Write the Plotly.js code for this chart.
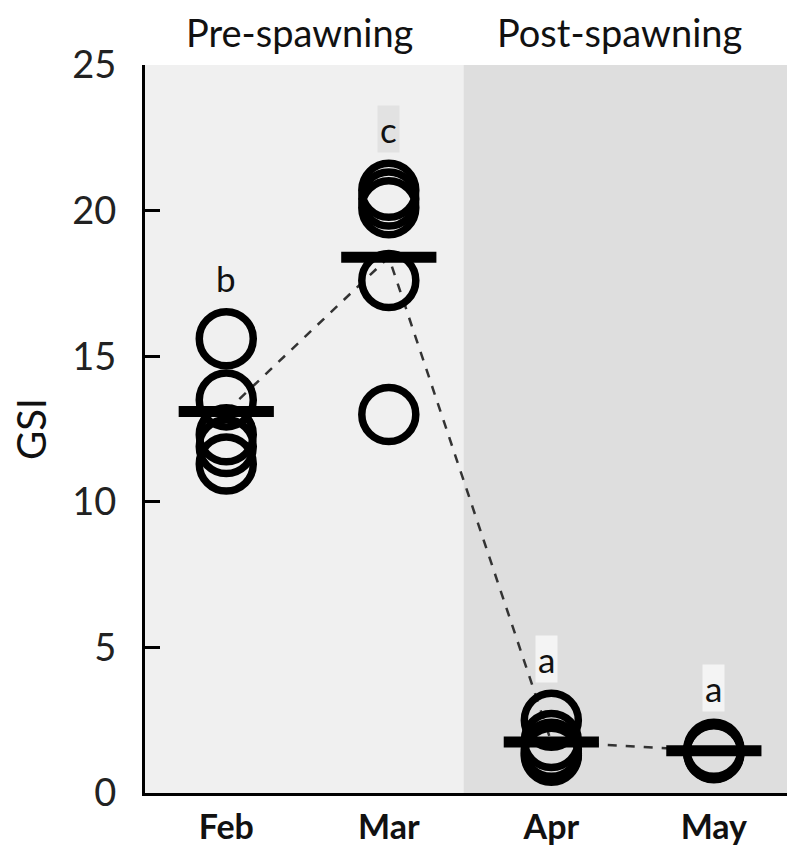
<!DOCTYPE html>
<html>
<head>
<meta charset="utf-8">
<script src="https://cdn.plot.ly/plotly-3.0.1.min.js"></script>
<style>html,body{margin:0;padding:0;background:#fff;}#chart{width:787px;height:852px;}</style>
</head>
<body>
<div id="chart"></div>
<script>
// ---- data ----
const months = ['Feb', 'Mar', 'Apr', 'May'];
const gsiFeb = [15.6, 13.5, 12.3, 11.9, 11.3];
const gsiMar = [20.7, 20.4, 20.1, 17.6, 13.0];
const gsiApr = [2.5, 1.8, 1.5, 1.35, 1.3];
const gsiMay = [1.5, 1.45, 1.42, 1.4, 1.38];
const gsiMeans = [13.1, 18.4, 1.75, 1.45];
const sigLetters = ['b', 'c', 'a', 'a'];
const phaseLabels = ['Pre-spawning', 'Post-spawning'];
const yTicks = [0, 5, 10, 15, 20, 25];

const groups = [gsiFeb, gsiMar, gsiApr, gsiMay];
const ptsX = [], ptsY = [];
groups.forEach((g, i) => g.forEach(v => { ptsX.push(months[i]); ptsY.push(v); }));

const FONT = 'Lato, "Open Sans", sans-serif';
const split = 1.46;

const traces = [
  { x: months, y: gsiMeans, mode: 'lines', type: 'scatter',
    line: { color: '#333', width: 2.5, dash: 'dash' }, hoverinfo: 'skip', showlegend: false },
  { x: ptsX, y: ptsY, mode: 'markers', type: 'scatter',
    marker: { symbol: 'circle-open', size: 54, color: '#000', line: { color: '#000', width: 7.5 } },
    showlegend: false },
  { x: months, y: gsiMeans, mode: 'markers', type: 'scatter',
    marker: { symbol: 'line-ew', size: 68, color: '#000', line: { color: '#000', width: 11 } },
    showlegend: false }
];

const letterBg = ['rgba(0,0,0,0)', '#e2e2e2', '#f4f4f4', '#f4f4f4'];
const annotations = sigLetters.map((t, i) => ({
  x: months[i], y: Math.max(...groups[i]) + 2.1, xref: 'x', yref: 'y',
  text: t, showarrow: false, font: { family: FONT, size: 35, color: '#111' },
  bgcolor: letterBg[i], borderpad: 2, xshift: i === 2 ? -5 : 0
}));
annotations.push(
  { x: 0.45, y: 1.045, xref: 'x', yref: 'paper', text: phaseLabels[0], showarrow: false,
    yanchor: 'middle', font: { family: FONT, size: 38, color: '#111' } },
  { x: 2.42, y: 1.045, xref: 'x', yref: 'paper', text: phaseLabels[1], showarrow: false,
    yanchor: 'middle', font: { family: FONT, size: 38, color: '#111' } }
);

const layout = {
  width: 787, height: 852,
  margin: { l: 145, r: 0, t: 65, b: 59 },
  paper_bgcolor: '#fff', plot_bgcolor: '#fff',
  showlegend: false,
  shapes: [
    { type: 'rect', xref: 'x', yref: 'paper', x0: -0.5, x1: split, y0: 0, y1: 1,
      fillcolor: '#f0f0f0', line: { width: 0 }, layer: 'below' },
    { type: 'rect', xref: 'x', yref: 'paper', x0: split, x1: 3.6, y0: 0, y1: 1,
      fillcolor: '#dedede', line: { width: 0 }, layer: 'below' }
  ],
  xaxis: {
    type: 'category', categoryarray: months, range: [-0.5, 3.45],
    showgrid: false, zeroline: false, showline: true, linecolor: '#000', linewidth: 3,
    ticks: '', ticklabelstandoff: 2,
    tickfont: { family: FONT, size: 34, color: '#111', weight: 'bold' }
  },
  yaxis: {
    range: [0, 25], tickvals: yTicks, ticktext: yTicks.map(String),
    showgrid: false, zeroline: false, showline: true, linecolor: '#000', linewidth: 3,
    ticks: 'inside', ticklen: 15, tickwidth: 3, tickcolor: '#000', ticklabelstandoff: 18,
    tickfont: { family: FONT, size: 38, color: '#222' },
    title: { text: 'GSI', font: { family: FONT, size: 40, color: '#111' }, standoff: 14 }
  },
  annotations: annotations
};

Plotly.newPlot('chart', traces, layout, { displayModeBar: false, staticPlot: true });
</script>
</body>
</html>
